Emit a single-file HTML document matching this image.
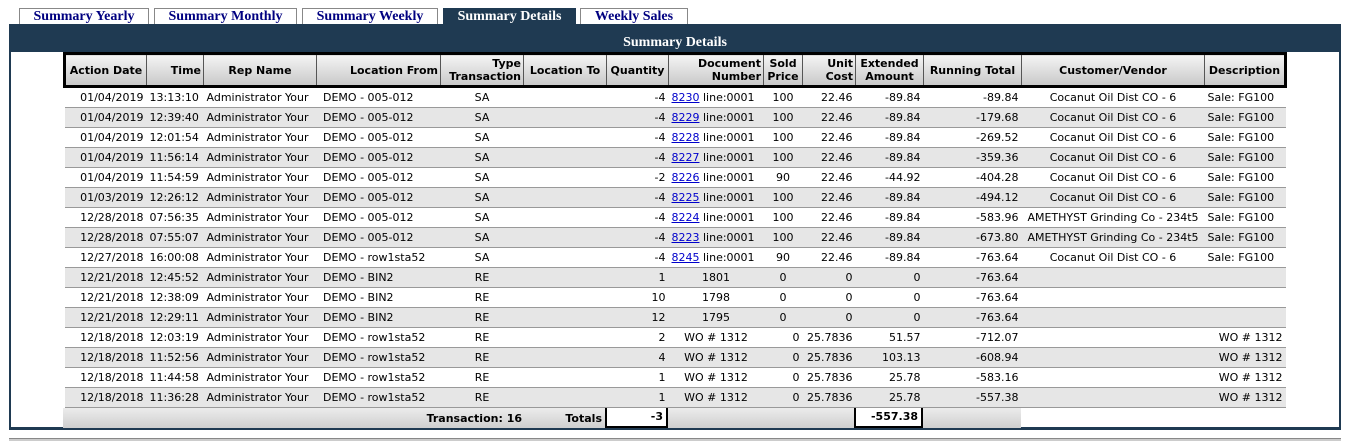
<!DOCTYPE html>
<html><head><style>
body{margin:0;width:1354px;height:444px;background:#fff;font-family:Tahoma,"DejaVu Sans",sans-serif;overflow:hidden;position:relative}
.tab{position:absolute;top:8px;height:16px;border:1px solid #888;border-bottom:none;background:#fff;color:#000080;font:bold 14px "Liberation Serif",serif;text-align:center;line-height:16px;box-sizing:border-box}
.tab.on{background:#1f3a52;color:#fff;border-color:#1f3a52}
#panel{position:absolute;left:9px;top:24px;width:1332px;height:406px;border-left:2px solid #1f3a52;border-right:2px solid #1f3a52;border-bottom:3px solid #1f3a52;box-sizing:border-box;background:#fff}
#title{position:absolute;left:9px;top:24px;width:1332px;height:28px;background:#1f3a52;color:#fff;font:bold 14px "Liberation Serif",serif;text-align:center;line-height:38px}
table{position:absolute;left:63px;top:52px;border-collapse:collapse;table-layout:fixed;font-size:11px;width:1221px}
th{background:linear-gradient(#f4f4f4,#c8c8c8);border:1px solid #555;height:30px;padding:0 2px;font-weight:bold;font-size:11px;line-height:13px}
thead tr{border:3px solid #000}
td{height:19px;padding:0 3px;border-bottom:1px solid #999;white-space:nowrap;overflow:hidden}
tbody tr:nth-child(even) td{background:#e6e6e6}
.r{text-align:right}.c{text-align:center}
a{color:#00c;text-decoration:underline}
#tot{position:absolute;left:63px;top:408px;width:958px;height:20px;background:linear-gradient(#ececec,#cfcfcf);font-size:11px;font-weight:bold}
.box{position:absolute;top:0;height:20px;background:#fff;border:2px solid #000;border-top:none;box-sizing:border-box;text-align:right;line-height:18px;padding-right:3px}
#bot{position:absolute;left:9px;top:438px;width:1332px;height:2px;background:#ccc;border-top:1px solid #888}
</style></head><body>
<div class="tab" style="left:19px;width:130px">Summary Yearly</div>
<div class="tab" style="left:154px;width:143px">Summary Monthly</div>
<div class="tab" style="left:302px;width:136px">Summary Weekly</div>
<div class="tab on" style="left:443px;width:133px">Summary Details</div>
<div class="tab" style="left:580px;width:108px">Weekly Sales</div>
<div id="panel"></div>
<div id="title">Summary Details</div>
<table>
<colgroup><col style="width:82px"><col style="width:57px"><col style="width:113px"><col style="width:124px"><col style="width:83px"><col style="width:83px"><col style="width:62px"><col style="width:95px"><col style="width:39px"><col style="width:53px"><col style="width:68px"><col style="width:98px"><col style="width:183px"><col style="width:81px"></colgroup>
<thead><tr><th>Action Date</th><th class="r">Time</th><th>Rep Name</th><th class="r">Location From</th><th class="r">Type<br>Transaction</th><th>Location To</th><th>Quantity</th><th class="r">Document<br>Number</th><th>Sold<br>Price</th><th class="r">Unit<br>Cost</th><th>Extended<br>Amount</th><th>Running Total</th><th>Customer/Vendor</th><th>Description</th></tr></thead>
<tbody>
<tr><td class="r">01/04/2019</td><td>13:13:10</td><td>Administrator Your</td><td>&nbsp;DEMO - 005-012</td><td class="c">SA</td><td></td><td class="r">-4</td><td><a>8230</a> line:0001</td><td class="c">100</td><td class="r">22.46</td><td class="r">-89.84</td><td class="r">-89.84</td><td class="c">Cocanut Oil Dist CO - 6</td><td>Sale: FG100</td></tr>
<tr><td class="r">01/04/2019</td><td>12:39:40</td><td>Administrator Your</td><td>&nbsp;DEMO - 005-012</td><td class="c">SA</td><td></td><td class="r">-4</td><td><a>8229</a> line:0001</td><td class="c">100</td><td class="r">22.46</td><td class="r">-89.84</td><td class="r">-179.68</td><td class="c">Cocanut Oil Dist CO - 6</td><td>Sale: FG100</td></tr>
<tr><td class="r">01/04/2019</td><td>12:01:54</td><td>Administrator Your</td><td>&nbsp;DEMO - 005-012</td><td class="c">SA</td><td></td><td class="r">-4</td><td><a>8228</a> line:0001</td><td class="c">100</td><td class="r">22.46</td><td class="r">-89.84</td><td class="r">-269.52</td><td class="c">Cocanut Oil Dist CO - 6</td><td>Sale: FG100</td></tr>
<tr><td class="r">01/04/2019</td><td>11:56:14</td><td>Administrator Your</td><td>&nbsp;DEMO - 005-012</td><td class="c">SA</td><td></td><td class="r">-4</td><td><a>8227</a> line:0001</td><td class="c">100</td><td class="r">22.46</td><td class="r">-89.84</td><td class="r">-359.36</td><td class="c">Cocanut Oil Dist CO - 6</td><td>Sale: FG100</td></tr>
<tr><td class="r">01/04/2019</td><td>11:54:59</td><td>Administrator Your</td><td>&nbsp;DEMO - 005-012</td><td class="c">SA</td><td></td><td class="r">-2</td><td><a>8226</a> line:0001</td><td class="c">90</td><td class="r">22.46</td><td class="r">-44.92</td><td class="r">-404.28</td><td class="c">Cocanut Oil Dist CO - 6</td><td>Sale: FG100</td></tr>
<tr><td class="r">01/03/2019</td><td>12:26:12</td><td>Administrator Your</td><td>&nbsp;DEMO - 005-012</td><td class="c">SA</td><td></td><td class="r">-4</td><td><a>8225</a> line:0001</td><td class="c">100</td><td class="r">22.46</td><td class="r">-89.84</td><td class="r">-494.12</td><td class="c">Cocanut Oil Dist CO - 6</td><td>Sale: FG100</td></tr>
<tr><td class="r">12/28/2018</td><td>07:56:35</td><td>Administrator Your</td><td>&nbsp;DEMO - 005-012</td><td class="c">SA</td><td></td><td class="r">-4</td><td><a>8224</a> line:0001</td><td class="c">100</td><td class="r">22.46</td><td class="r">-89.84</td><td class="r">-583.96</td><td class="c">AMETHYST Grinding Co - 234t5</td><td>Sale: FG100</td></tr>
<tr><td class="r">12/28/2018</td><td>07:55:07</td><td>Administrator Your</td><td>&nbsp;DEMO - 005-012</td><td class="c">SA</td><td></td><td class="r">-4</td><td><a>8223</a> line:0001</td><td class="c">100</td><td class="r">22.46</td><td class="r">-89.84</td><td class="r">-673.80</td><td class="c">AMETHYST Grinding Co - 234t5</td><td>Sale: FG100</td></tr>
<tr><td class="r">12/27/2018</td><td>16:00:08</td><td>Administrator Your</td><td>&nbsp;DEMO - row1sta52</td><td class="c">SA</td><td></td><td class="r">-4</td><td><a>8245</a> line:0001</td><td class="c">90</td><td class="r">22.46</td><td class="r">-89.84</td><td class="r">-763.64</td><td class="c">Cocanut Oil Dist CO - 6</td><td>Sale: FG100</td></tr>
<tr><td class="r">12/21/2018</td><td>12:45:52</td><td>Administrator Your</td><td>&nbsp;DEMO - BIN2</td><td class="c">RE</td><td></td><td class="r">1</td><td class="c">1801</td><td class="c">0</td><td class="r">0</td><td class="r">0</td><td class="r">-763.64</td><td></td><td></td></tr>
<tr><td class="r">12/21/2018</td><td>12:38:09</td><td>Administrator Your</td><td>&nbsp;DEMO - BIN2</td><td class="c">RE</td><td></td><td class="r">10</td><td class="c">1798</td><td class="c">0</td><td class="r">0</td><td class="r">0</td><td class="r">-763.64</td><td></td><td></td></tr>
<tr><td class="r">12/21/2018</td><td>12:29:11</td><td>Administrator Your</td><td>&nbsp;DEMO - BIN2</td><td class="c">RE</td><td></td><td class="r">12</td><td class="c">1795</td><td class="c">0</td><td class="r">0</td><td class="r">0</td><td class="r">-763.64</td><td></td><td></td></tr>
<tr><td class="r">12/18/2018</td><td>12:03:19</td><td>Administrator Your</td><td>&nbsp;DEMO - row1sta52</td><td class="c">RE</td><td></td><td class="r">2</td><td class="c">WO # 1312</td><td class="r">0</td><td class="r">25.7836</td><td class="r">51.57</td><td class="r">-712.07</td><td></td><td class="r">WO # 1312</td></tr>
<tr><td class="r">12/18/2018</td><td>11:52:56</td><td>Administrator Your</td><td>&nbsp;DEMO - row1sta52</td><td class="c">RE</td><td></td><td class="r">4</td><td class="c">WO # 1312</td><td class="r">0</td><td class="r">25.7836</td><td class="r">103.13</td><td class="r">-608.94</td><td></td><td class="r">WO # 1312</td></tr>
<tr><td class="r">12/18/2018</td><td>11:44:58</td><td>Administrator Your</td><td>&nbsp;DEMO - row1sta52</td><td class="c">RE</td><td></td><td class="r">1</td><td class="c">WO # 1312</td><td class="r">0</td><td class="r">25.7836</td><td class="r">25.78</td><td class="r">-583.16</td><td></td><td class="r">WO # 1312</td></tr>
<tr><td class="r">12/18/2018</td><td>11:36:28</td><td>Administrator Your</td><td>&nbsp;DEMO - row1sta52</td><td class="c">RE</td><td></td><td class="r">1</td><td class="c">WO # 1312</td><td class="r">0</td><td class="r">25.7836</td><td class="r">25.78</td><td class="r">-557.38</td><td></td><td class="r">WO # 1312</td></tr>
</tbody></table>
<div id="tot">
<span style="position:absolute;right:499px;top:4px">Transaction: 16</span>
<span style="position:absolute;right:419px;top:4px">Totals</span>
<div class="box" style="left:542px;width:63px">-3</div>
<div class="box" style="left:791px;width:69px">-557.38</div>
</div>
<div id="bot"></div>
</body></html>
